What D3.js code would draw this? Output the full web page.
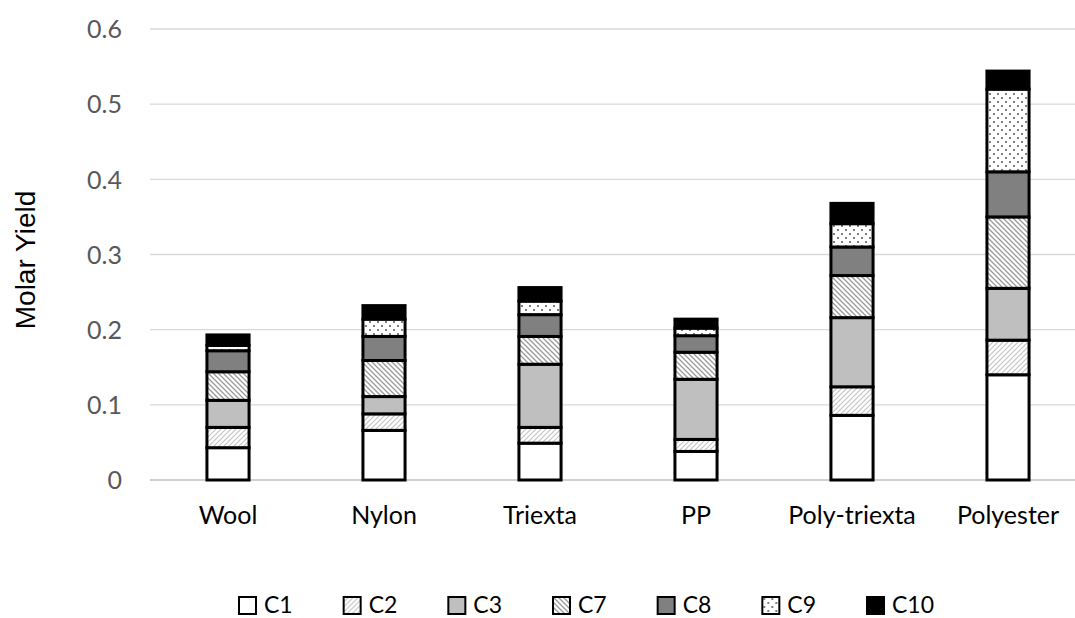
<!DOCTYPE html>
<html><head><meta charset="utf-8">
<script src="https://cdn.jsdelivr.net/npm/d3@7"></script>
<style>body{margin:0;background:#fff}svg{display:block}</style>
</head><body>
<svg id="chart" width="1075" height="618"></svg>
<script>
const categories = ["Wool","Nylon","Triexta","PP","Poly-triexta","Polyester"];
const seriesNames = ["C1","C2","C3","C7","C8","C9","C10"];
const C1  = [0.043,0.066,0.049,0.038,0.086,0.140];
const C2  = [0.027,0.022,0.021,0.016,0.038,0.046];
const C3  = [0.036,0.023,0.084,0.080,0.092,0.069];
const C7  = [0.038,0.048,0.037,0.036,0.056,0.095];
const C8  = [0.028,0.032,0.029,0.022,0.038,0.060];
const C9  = [0.007,0.023,0.018,0.010,0.031,0.110];
const C10 = [0.014,0.018,0.018,0.012,0.027,0.024];
const yTicks = [0,0.1,0.2,0.3,0.4,0.5,0.6];

const seriesValues = [C1,C2,C3,C7,C8,C9,C10];
const table = categories.map((c,i)=>{const o={cat:c}; seriesNames.forEach((s,j)=>o[s]=seriesValues[j][i]); return o;});
const stacked = d3.stack().keys(seriesNames)(table);

const svg = d3.select("#chart");
const defs = svg.append("defs");
const p2 = defs.append("pattern").attr("id","pC2").attr("patternUnits","userSpaceOnUse").attr("width",5).attr("height",5);
p2.append("rect").attr("width",5).attr("height",5).attr("fill","#fff");
p2.append("path").attr("d","M-1,1 l2,-2 M0,5 l5,-5 M4,6 l2,-2").attr("stroke","#c4c4c4").attr("stroke-width",1.2);
const p7 = defs.append("pattern").attr("id","pC7").attr("patternUnits","userSpaceOnUse").attr("width",5).attr("height",5);
p7.append("rect").attr("width",5).attr("height",5).attr("fill","#fff");
p7.append("path").attr("d","M-1,4 l2,2 M0,0 l5,5 M4,-1 l2,2").attr("stroke","#9a9a9a").attr("stroke-width",1.3);
const p9 = defs.append("pattern").attr("id","pC9").attr("patternUnits","userSpaceOnUse").attr("width",8).attr("height",8);
p9.append("rect").attr("width",8).attr("height",8).attr("fill","#fff");
p9.append("circle").attr("cx",2).attr("cy",2).attr("r",1).attr("fill","#555");
p9.append("circle").attr("cx",6).attr("cy",6).attr("r",1).attr("fill","#555");

const fills = {C1:"#ffffff",C2:"url(#pC2)",C3:"#bfbfbf",C7:"url(#pC7)",C8:"#808080",C9:"url(#pC9)",C10:"#000000"};

const x = d3.scaleBand().domain(categories).range([150,1086]).paddingInner(0.73).paddingOuter(0.365);
const y = d3.scaleLinear().domain([0,0.6]).range([480,29]);

const font = "Lato, 'Open Sans', sans-serif";

svg.append("g").selectAll("line").data(yTicks).join("line")
  .attr("x1",150).attr("x2",1075).attr("y1",d=>y(d)).attr("y2",d=>y(d))
  .attr("stroke",d=>d===0?"#bfbfbf":"#d9d9d9").attr("stroke-width",1.3);

const yAxis = d3.axisLeft(y).tickValues(yTicks).tickSize(0).tickPadding(0).tickFormat(d=>d===0?"0":d3.format(".1f")(d));
const ga = svg.append("g").attr("transform","translate(122,0)").call(yAxis);
ga.select(".domain").remove();
ga.selectAll("text").attr("font-family",font).attr("font-size",25).attr("fill","#595959").attr("dy","0.35em");

const xAxis = d3.axisBottom(x).tickSize(0).tickPadding(0);
const gx = svg.append("g").attr("transform","translate(0,480)").call(xAxis);
gx.select(".domain").remove();
gx.selectAll("text").attr("font-family",font).attr("font-size",25).attr("fill","#000").attr("y",35).attr("dy","0.35em");

svg.append("text").attr("transform","translate(35,260) rotate(-90)").attr("text-anchor","middle")
  .attr("font-family","'Liberation Sans', Arial, sans-serif").attr("font-size",28).attr("fill","#000").text("Molar Yield");

svg.append("g").selectAll("g").data(stacked).join("g")
  .attr("fill",d=>fills[d.key])
  .selectAll("rect").data(d=>d).join("rect")
  .attr("x",d=>x(d.data.cat)).attr("width",x.bandwidth())
  .attr("y",d=>y(d[1])).attr("height",d=>y(d[0])-y(d[1]))
  .attr("stroke","#000").attr("stroke-width",3);

const legX = d3.scalePoint().domain(seriesNames).range([239,867]);
const lg = svg.append("g").selectAll("g").data(seriesNames).join("g")
  .attr("transform",d=>`translate(${legX(d)},597)`);
lg.append("rect").attr("width",17).attr("height",17).attr("fill",d=>fills[d]).attr("stroke","#000").attr("stroke-width",2);
lg.append("text").attr("x",25).attr("y",16).attr("font-family",font).attr("font-size",23).attr("fill","#000").text(d=>d);
</script>
</body></html>
